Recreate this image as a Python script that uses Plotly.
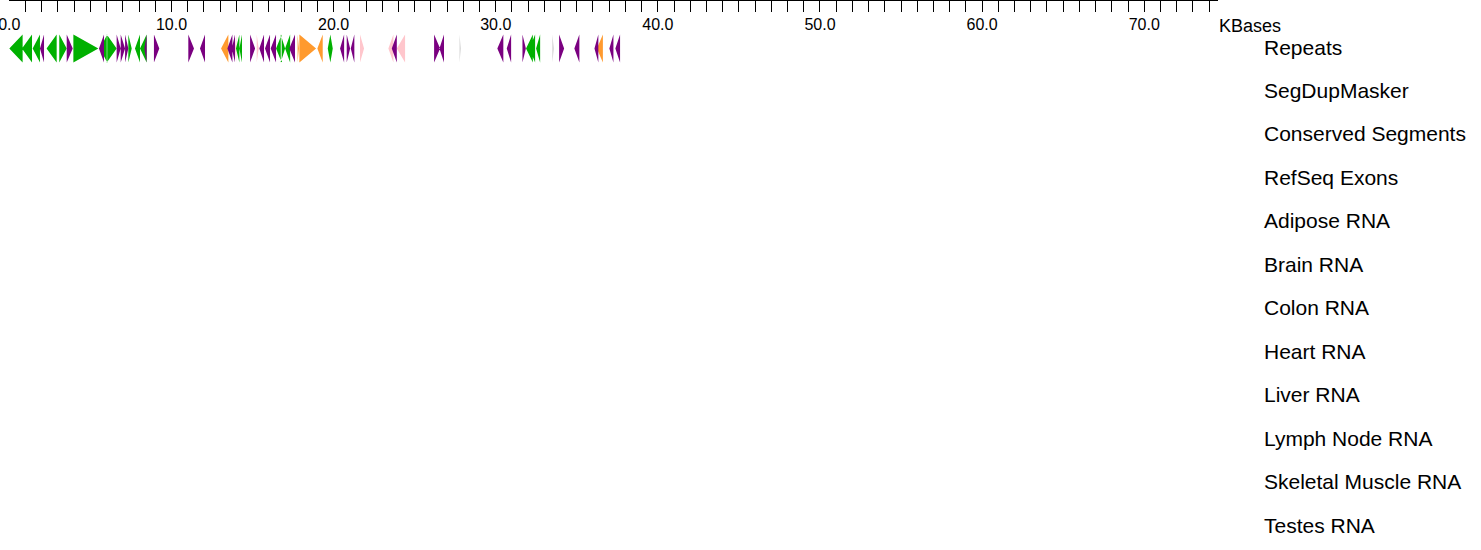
import plotly.graph_objects as go

# ---------------- data ----------------
TRACKS = ["Repeats", "SegDupMasker", "Conserved Segments", "RefSeq Exons",
          "Adipose RNA", "Brain RNA", "Colon RNA", "Heart RNA", "Liver RNA",
          "Lymph Node RNA", "Skeletal Muscle RNA", "Testes RNA"]

# repeat elements in the "Repeats" track (kb)
REP_START = [0.00, 0.78, 1.44, 1.89, 2.30, 3.08, 3.54, 3.95, 5.53, 5.59,
             6.01, 6.62, 6.87, 7.14, 7.34, 7.75, 8.06, 8.33, 8.92,
             11.04, 11.76, 13.06, 13.45, 13.72, 13.92, 13.98, 14.19, 14.85, 15.26,
             15.42, 15.77, 16.12, 16.45, 16.74, 17.01, 17.27, 17.78, 17.89, 19.00,
             19.64, 19.80, 20.40, 20.81, 21.06, 21.63,
             23.38, 23.59, 23.90, 26.20, 26.53, 27.76,
             30.10, 30.68, 31.65, 31.87, 32.08, 32.49, 33.48, 33.91, 34.85,
             36.09, 36.24, 37.01, 37.38]
REP_END = [0.82, 1.40, 1.89, 2.14, 2.92, 3.54, 3.91, 5.49, 5.84, 6.04,
           6.62, 6.87, 7.14, 7.34, 7.55, 8.06, 8.47, 8.47, 9.25,
           11.39, 12.07, 13.51, 13.76, 13.92, 14.00, 14.19, 14.35, 15.16, 15.38,
           15.71, 16.08, 16.45, 16.80, 17.01, 17.32, 17.62, 17.86, 18.92, 19.33,
           19.80, 19.95, 20.65, 21.02, 21.28, 21.88,
           23.69, 23.90, 24.41, 26.57, 26.81, 27.86,
           30.47, 30.95, 31.86, 32.29, 32.43, 32.74, 33.60, 34.22, 35.16,
           36.33, 36.61, 37.26, 37.67]
REP_STRAND = ['-', '-', '-', '-', '-', '+', '+', '+', '-', '-',
              '+', '+', '+', '+', '+', '-', '-', '-', '+',
              '+', '-', '-', '-', '-', '-', '-', '-', '+', '+',
              '-', '-', '-', '-', '+', '-', '-', '+', '+', '-',
              '-', '+', '-', '+', '-', '+',
              '-', '-', '-', '+', '-', '+',
              '-', '-', '+', '-', '-', '-', '+', '+', '-',
              '-', '-', '-', '-']
REP_CLASS = ['SINE', 'SINE', 'SINE', 'LINE', 'SINE', 'SINE', 'LINE', 'SINE', 'LINE', 'SINE',
             'SINE', 'LINE', 'LINE', 'LINE', 'SINE', 'SINE', 'SINE', 'LINE', 'LINE',
             'LINE', 'LINE', 'LTR', 'LINE', 'LINE', 'Simple', 'SINE', 'SINE', 'LINE', 'Simple',
             'LINE', 'LINE', 'LINE', 'SINE', 'SINE', 'SINE', 'LINE', 'LTR', 'LTR', 'LTR',
             'SINE', 'SINE', 'LINE', 'LINE', 'LINE', 'Simple',
             'Simple', 'LINE', 'Simple', 'LINE', 'LINE', 'Other',
             'LINE', 'LINE', 'LINE', 'SINE', 'SINE', 'SINE', 'Other', 'LINE', 'LINE',
             'LINE', 'LTR', 'LINE', 'LINE']

CLASS_ORDER = ['Other', 'Simple', 'LTR', 'SINE', 'LINE']
CLASS_COLORS = {'SINE': '#00b000', 'LINE': '#7a0080', 'LTR': '#ff9a2e',
                'Simple': '#ffc6cc', 'Other': '#dcdcdc'}

X_MAX = 74.55
TRI_HALF = 0.32
TRI_OFFSET = 0.03

# ---------------- figure ----------------
fig = go.Figure()
track_y = TRACKS.index("Repeats")
for cls in CLASS_ORDER:
    xs, ys = [], []
    for s, e, st, c in zip(REP_START, REP_END, REP_STRAND, REP_CLASS):
        if c != cls:
            continue
        yc = track_y + TRI_OFFSET
        if st == '+':
            xs += [s, s, e, s, None]
            ys += [yc - TRI_HALF, yc + TRI_HALF, yc, yc - TRI_HALF, None]
        else:
            xs += [e, e, s, e, None]
            ys += [yc - TRI_HALF, yc + TRI_HALF, yc, yc - TRI_HALF, None]
    fig.add_trace(go.Scatter(x=xs, y=ys, mode='lines', fill='toself',
                             fillcolor=CLASS_COLORS[cls],
                             line=dict(width=0, color=CLASS_COLORS[cls]),
                             hoverinfo='skip', name=cls, showlegend=False))

FONT = "Liberation Sans, Arial, sans-serif"

fig.update_xaxes(
    side='top', range=[-0.02, X_MAX], tickmode='linear', tick0=0, dtick=10,
    tickformat='.1f', ticks='inside', ticklen=11, tickwidth=1, tickcolor='black',
    showline=True, linecolor='black', linewidth=1, showgrid=False, zeroline=False,
    ticklabelposition='inside', ticklabeloverflow='allow', automargin=False,
    ticklabelstandoff=7,
    tickfont=dict(family=FONT, size=16, color='black'),
    minor=dict(tickmode='linear', tick0=0, dtick=1, ticks='inside', ticklen=11,
               tickwidth=1, tickcolor='black', showgrid=False),
    fixedrange=True,
)
fig.update_yaxes(
    side='right', range=[11.568, -1.063], tickmode='array',
    tickvals=list(range(len(TRACKS))), ticktext=TRACKS,
    ticks='', showline=False, showgrid=False, zeroline=False,
    ticklabelstandoff=45, automargin=False,
    tickfont=dict(family=FONT, size=21, color='black'), fixedrange=True,
)

fig.add_annotation(text="KBases", xref='paper', yref='paper', x=1, y=1,
                   xanchor='left', yanchor='middle', xshift=-1, yshift=-25,
                   showarrow=False, font=dict(family=FONT, size=18, color='black'))

fig.update_layout(
    width=1481, height=550, margin=dict(l=9, r=263, t=1, b=0, autoexpand=False),
    paper_bgcolor='white', plot_bgcolor='white', showlegend=False,
)

fig.write_html("out.html", config={'displayModeBar': False},
               post_script="document.body.style.margin='0';")
